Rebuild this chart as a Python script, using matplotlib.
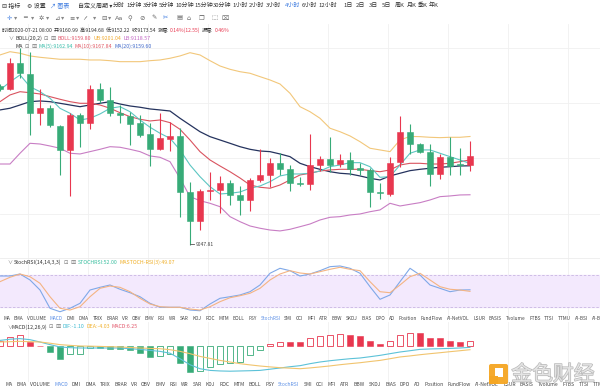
import matplotlib
matplotlib.use('Agg')
import matplotlib.pyplot as plt
import matplotlib.patheffects as pe
from matplotlib.patches import Rectangle, FancyBboxPatch
import numpy as np

plt.rcParams['font.family'] = ['Noto Sans CJK SC', 'DejaVu Sans']

# ---------------- data ----------------
opens = [9271.8, 9268.3, 9305.5, 9289.5, 9234.7, 9241.8, 9215.9, 9182.0, 9231.9, 9220.6,
         9268.3, 9252.7, 9234.7, 9230.1, 9219.7, 9204.2, 9182.9, 9197.9, 9201.8, 9122.9,
         9081.5, 9124.4, 9125.4, 9134.8, 9118.3, 9111.2, 9139.5, 9146.6, 9163.1, 9154.6,
         9135.7, 9133.4, 9160.7, 9168.8, 9161.7, 9167.8, 9156.1, 9153.7, 9122.9, 9119.7,
         9164.5, 9207.0, 9190.0, 9179.6, 9148.0, 9171.6, 9162.0, 9160.99]
highs = [9275.3, 9311.7, 9325.9, 9320.2, 9268.3, 9245.6, 9217.3, 9234.7, 9234.7, 9273.9,
         9276.3, 9271.5, 9245.6, 9236.1, 9231.5, 9219.7, 9234.7, 9222.0, 9212.7, 9137.1,
         9126.3, 9150.4, 9145.2, 9139.5, 9131.0, 9141.9, 9182.9, 9170.2, 9178.1, 9160.7,
         9143.3, 9204.6, 9173.5, 9199.9, 9176.3, 9179.6, 9163.1, 9156.1, 9135.7, 9171.6,
         9230.1, 9218.7, 9191.4, 9190.4, 9176.3, 9199.9, 9184.4, 9194.68]
lows = [9265.4, 9266.9, 9283.8, 9203.2, 9217.3, 9214.1, 9146.6, 9116.9, 9185.8, 9211.2,
        9248.0, 9230.1, 9219.7, 9189.0, 9200.3, 9159.3, 9182.0, 9180.5, 9087.6, 9047.81,
        9068.7, 9111.2, 9093.2, 9104.1, 9090.0, 9096.1, 9137.1, 9130.0, 9146.6, 9124.4,
        9131.0, 9125.4, 9152.7, 9151.2, 9158.3, 9146.6, 9146.6, 9100.9, 9112.2, 9117.3,
        9158.3, 9176.3, 9178.1, 9131.0, 9140.5, 9146.6, 9146.6, 9152.22]
closes = [9268.3, 9305.5, 9290.5, 9234.7, 9241.8, 9217.3, 9182.0, 9231.9, 9219.7, 9268.3,
          9252.7, 9234.7, 9231.0, 9218.7, 9203.2, 9182.9, 9198.5, 9201.8, 9122.9, 9081.5,
          9123.9, 9125.8, 9134.8, 9117.9, 9111.2, 9139.5, 9146.6, 9163.1, 9155.1, 9135.7,
          9133.4, 9160.7, 9168.8, 9160.7, 9167.8, 9154.6, 9153.7, 9122.9, 9120.7, 9164.0,
          9207.8, 9190.0, 9179.6, 9148.0, 9171.6, 9159.7, 9161.0, 9173.54]

boll_ub = [9316.4, 9321.0, 9318.8, 9315.0, 9313.1, 9311.7, 9310.3, 9310.3, 9310.3, 9309.3,
           9309.3, 9308.3, 9306.9, 9306.9, 9306.9, 9308.3, 9309.3, 9311.7, 9315.0, 9319.6,
           9316.4, 9308.3, 9300.8, 9296.1, 9292.7, 9290.5, 9285.7, 9281.0, 9275.3, 9262.2,
           9243.2, 9236.1, 9226.8, 9212.7, 9207.8, 9201.8, 9193.7, 9184.4, 9182.0, 9179.6,
           9196.1, 9201.1, 9200.8, 9199.9, 9199.4, 9199.9, 9199.9, 9201.04]
boll_lb = [9162.1, 9162.1, 9177.3, 9191.4, 9190.4, 9187.6, 9184.4, 9177.3, 9176.3, 9179.6,
           9182.9, 9186.6, 9185.8, 9182.9, 9179.6, 9173.5, 9171.6, 9165.4, 9141.9, 9115.9,
           9110.2, 9106.5, 9101.7, 9087.6, 9080.5, 9074.4, 9071.2, 9068.7, 9067.4, 9069.7,
           9073.4, 9077.2, 9082.9, 9086.7, 9087.6, 9090.0, 9091.4, 9094.6, 9097.1, 9106.5,
           9102.7, 9105.1, 9107.4, 9111.2, 9115.9, 9116.9, 9118.3, 9118.57]
ma20 = [9238.6, 9241.0, 9245.6, 9250.3, 9251.3, 9250.3, 9248.0, 9245.6, 9243.2, 9245.6,
        9248.0, 9250.3, 9247.0, 9244.2, 9242.4, 9240.0, 9238.6, 9237.1, 9226.8, 9217.3,
        9207.8, 9200.8, 9196.1, 9191.4, 9186.6, 9182.9, 9180.5, 9179.6, 9176.3, 9172.5,
        9163.1, 9158.3, 9154.6, 9151.2, 9149.0, 9148.0, 9145.2, 9141.9, 9139.5, 9145.2,
        9149.0, 9152.7, 9154.6, 9156.1, 9157.5, 9158.3, 9159.3, 9159.60]
ma10 = [9250.3, 9259.8, 9264.4, 9263.0, 9261.2, 9257.4, 9253.7, 9250.3, 9248.0, 9248.0,
        9245.6, 9241.0, 9234.7, 9229.1, 9225.4, 9223.0, 9224.4, 9220.6, 9211.2, 9196.1,
        9179.6, 9167.8, 9159.3, 9151.2, 9142.3, 9132.4, 9129.2, 9127.8, 9132.4, 9139.5,
        9146.6, 9149.0, 9152.2, 9153.7, 9154.6, 9154.6, 9154.6, 9152.7, 9151.2, 9153.7,
        9160.7, 9163.1, 9163.1, 9162.1, 9162.1, 9163.1, 9165.4, 9167.84]
ma5 = [9266.9, 9278.2, 9288.1, 9271.5, 9264.4, 9255.1, 9240.9, 9233.9, 9224.4, 9226.8,
       9232.9, 9240.9, 9243.2, 9236.1, 9224.4, 9214.1, 9205.6, 9198.5, 9182.0, 9160.7,
       9144.2, 9130.0, 9119.7, 9120.7, 9122.5, 9127.8, 9131.0, 9137.1, 9145.2, 9148.0,
       9148.0, 9149.0, 9152.2, 9158.3, 9160.7, 9164.0, 9164.0, 9158.3, 9143.3, 9144.2,
       9160.7, 9177.3, 9182.0, 9182.0, 9177.3, 9172.5, 9167.8, 9162.94]

stoch_rsi = [78.1, 78.1, 81.9, 70.6, 51.6, 17.0, 10.5, 17.0, 26.4, 51.6,
             56.7, 61.1, 53.0, 46.5, 38.9, 26.4, 18.9, 18.9, 18.9, 13.7,
             12.4, 25.1, 35.9, 38.9, 42.2, 48.4, 61.1, 83.3, 92.7, 88.2,
             78.1, 81.9, 88.2, 95.8, 97.1, 92.7, 83.3, 57.9, 34.0, 42.2,
             67.4, 92.7, 80.0, 61.1, 54.8, 48.4, 51.6, 52.00]
ma_stoch_rsi = [67.4, 75.7, 81.9, 76.8, 64.3, 38.9, 17.0, 13.7, 20.0, 38.9,
                54.8, 59.2, 56.7, 48.4, 35.9, 25.1, 20.0, 18.9, 18.9, 15.6,
                13.7, 20.0, 29.5, 37.0, 40.8, 45.4, 54.8, 70.6, 81.9, 88.2,
                83.8, 81.9, 86.3, 90.8, 94.6, 90.8, 88.2, 67.4, 48.4, 46.5,
                61.1, 76.8, 83.3, 70.6, 57.9, 53.0, 51.6, 49.07]

dif = [7.6, 9.1, 9.8, 8.5, 5.6, 2.3, -0.6, -1.5, -1.9, -1.9,
       -1.9, -1.9, -1.9, -2.8, -3.6, -4.9, -6.1, -8.4, -15.3, -22.8,
       -27.8, -29.9, -30.6, -30.9, -30.6, -30.3, -29.9, -28.4, -26.9, -25.3,
       -24.0, -21.5, -19.4, -17.8, -16.5, -15.3, -14.4, -12.8, -11.1, -9.0,
       -6.9, -5.3, -3.6, -3.1, -2.8, -2.4, -1.9, -1.10]
dea = [5.6, 6.0, 6.4, 6.0, 5.6, 4.1, 2.3, 1.4, 0.6, 0.4,
       0.1, -0.3, -0.6, -1.3, -1.9, -2.4, -2.8, -4.0, -6.1, -9.0,
       -12.4, -14.9, -17.4, -19.4, -21.5, -23.0, -24.4, -25.5, -26.5, -27.1,
       -27.8, -26.8, -25.6, -24.3, -22.8, -21.5, -20.3, -18.8, -17.4, -15.3,
       -13.1, -11.8, -10.3, -9.0, -7.8, -6.5, -5.3, -4.03]
macd_hist = [7.3, 12.3, 14.4, 5.2, 1.0, -6.5, -16.0, -9.8, -9.4, -2.0,
             -2.3, -2.7, -3.5, -4.4, -7.7, -12.7, -11.5, -9.8, -21.0, -31.5,
             -30.6, -25.2, -21.9, -20.2, -19.0, -10.6, -4.4, 3.1, 6.0, 5.2,
             5.0, 10.2, 13.1, 14.4, 15.6, 14.4, 13.1, 7.3, 3.1, 7.3,
             14.4, 17.3, 16.5, 10.2, 10.0, 7.3, 6.0, 6.25]

low_label = "9047.81"

# ---------------- styling ----------------
UP = '#e8374f'
DOWN = '#37ab78'
GRID = '#f0f0f0'
W, H = 600, 391

fig = plt.figure(figsize=(W / 100, H / 100), dpi=100)
fig.patch.set_facecolor('white')


def ax_px(x0, y0, x1, y1):
    a = fig.add_axes([x0 / W, 1 - y1 / H, (x1 - x0) / W, (y1 - y0) / H])
    a.set_xlim(0, 60)
    for s in a.spines.values():
        s.set_visible(False)
    a.set_xticks([])
    a.set_yticks([])
    a.patch.set_alpha(0)
    return a


def vgrid(a):
    for k in range(10):
        a.axvline(2.8 + 6 * k, color=GRID, lw=0.6, zorder=0)


idx = np.arange(len(opens))

# ---------------- main chart ----------------
ax = ax_px(0, 24, 600, 258)
ax.set_ylim(9029.1, 9360.2)
vgrid(ax)
for yy in [9326, 9248, 9170, 9092]:
    ax.axhline(yy, color=GRID, lw=0.6, zorder=0)

ax.plot(idx, boll_ub, color='#f2c77a', lw=0.8, zorder=2)
ax.plot(idx, boll_lb, color='#c87dc4', lw=0.8, zorder=2)
ax.plot(idx, ma20, color='#25335e', lw=0.9, zorder=2)
ax.plot(idx, ma10, color='#d9535f', lw=0.8, zorder=2)
ax.plot(idx, ma5, color='#5cc6c2', lw=0.8, zorder=2)

for i in idx:
    o, h, l, c = opens[i], highs[i], lows[i], closes[i]
    col = UP if c >= o else DOWN
    ax.vlines(i, l, h, color=col, lw=0.8, zorder=3)
    bot = min(o, c)
    hgt = max(abs(c - o), 1.6)
    ax.add_patch(Rectangle((i - 0.33, bot), 0.66, hgt, facecolor=col,
                           edgecolor=col, lw=0.4, zorder=4))

imin = int(np.argmin(lows))
ax.plot([imin, imin + 0.35], [lows[imin] + 1, lows[imin] + 1], color='#555555', lw=0.6, zorder=5)
ax.text(imin + 0.55, lows[imin] + 1, low_label, fontsize=3.6, color='#444444',
        va='center', ha='left', zorder=5)

# ---------------- StochRSI ----------------
ax2 = ax_px(0, 258, 600, 316)
ax2.set_ylim(2.4, 112.2)
vgrid(ax2)
ax2.axhspan(20, 80, color='#f3e9fd', zorder=0)
ax2.axhline(80, color='#c9b6e2', lw=0.6, ls=(0, (3, 2)), zorder=1)
ax2.axhline(20, color='#c9b6e2', lw=0.6, ls=(0, (3, 2)), zorder=1)
ax2.plot(idx, stoch_rsi, color='#7fa8e8', lw=0.8, zorder=2)
ax2.plot(idx, ma_stoch_rsi, color='#f4b483', lw=0.8, zorder=2)

# ---------------- MACD ----------------
ax3 = ax_px(0, 322, 600, 382)
ax3.set_ylim(-44.4, 30.6)
vgrid(ax3)
for i in idx:
    v = macd_hist[i]
    col = UP if v >= 0 else DOWN
    hollow = (i == 0) or (v > macd_hist[i - 1])
    hh = v if abs(v) > 0.6 else (0.6 if v >= 0 else -0.6)
    if hollow:
        ax3.add_patch(Rectangle((i - 0.33, 0), 0.66, hh, facecolor='white',
                                edgecolor=col, lw=0.6, zorder=3))
    else:
        ax3.add_patch(Rectangle((i - 0.33, 0), 0.66, hh, facecolor=col,
                                edgecolor=col, lw=0.4, zorder=3))
ax3.plot(idx, dif, color='#5cc2d8', lw=0.8, zorder=4)
ax3.plot(idx, dea, color='#f1c46e', lw=0.8, zorder=4)

# ---------------- overlay text ----------------
ov = fig.add_axes([0, 0, 1, 1])
ov.set_xlim(0, W)
ov.set_ylim(H, 0)
ov.axis('off')
ov.patch.set_alpha(0)

ov.axhline(258, color='#ececec', lw=0.6)

FS = 4.3
LFS = 3.8
BLUE = '#3d7be0'
TXT = '#333333'

toolbar = [("⊟ 指标", 2, TXT), ("⚙ 设置", 27, TXT), ("↗ 图表", 50, BLUE),
           ("自定义周期 ▾", 78, TXT), ("分时", 113, TXT), ("1分钟", 126, TXT),
           ("3分钟", 143, TXT), ("5分钟", 159, TXT), ("10分钟", 175, TXT),
           ("15分钟", 194, TXT), ("30分钟", 213, TXT), ("1小时", 232, TXT),
           ("2小时", 249, TXT), ("3小时", 266, TXT), ("4小时", 285, BLUE),
           ("6小时", 302, TXT), ("12小时", 318, TXT), ("1日", 343, TXT),
           ("2日", 356, TXT), ("3日", 369, TXT), ("5日", 382, TXT),
           ("周K", 395, TXT), ("月K", 407, TXT), ("季K", 418, TXT), ("年K", 429, TXT)]
for s, x, c in toolbar:
    ov.text(x, 5.5, s, fontsize=FS, color=c, va='center', ha='left')

icons = [("✛", 7, BLUE), ("▾", 14, '#888'), ("═", 23, '#666'), ("▾", 31, '#888'),
         ("✲", 39, '#666'), ("▾", 46, '#888'), ("⊿", 54, '#666'), ("▾", 61, '#888'),
         ("≡", 69, '#666'), ("▾", 76, '#888'), ("⁄⁄", 84, '#666'), ("▾", 93, '#888'),
         ("⊟", 101, '#666'), ("▾", 108, '#888'), ("Aa", 115, '#666'), ("⚲", 127, '#666'),
         ("⊘", 139, '#666'), ("✎", 151, '#666'), ("✂", 163, BLUE), ("▤", 176, '#666'),
         ("⌂", 187, '#666'), ("❐", 199, '#666'), ("⬚", 211, '#666'), ("⌧", 222, '#666')]
for s, x, c in icons:
    ov.text(x, 18, s, fontsize=4.6, color=c, va='center', ha='left', family='DejaVu Sans')


def chain(x, y, parts, fs=LFS, gap=1.5):
    t = None
    for s, c in parts:
        if t is None:
            t = ov.text(x, y, s, fontsize=fs, color=c, va='center', ha='left')
        else:
            t = ov.annotate(s, xy=(1, 0.5), xycoords=t, xytext=(gap, 0),
                            textcoords='offset points', fontsize=fs, color=c,
                            va='center', ha='left')
    return t


chain(2, 30, [("时间2020-07-21 08:00", TXT), ("开:9160.99", TXT), ("高:9194.68", TXT),
              ("低:9152.22", TXT), ("收:9173.54", TXT), ("涨幅:", TXT),
              ("0.14%(12.55)", UP), ("振幅:", TXT), ("0.46%", UP)], fs=3.65, gap=1.0)

ov.text(8, 38, "∨", fontsize=3.6, color='#777', va='center', ha='left')
chain(15, 38, [("BOLL(20,2)", TXT), ("⊡", '#777'), ("⊠", '#777'),
               ("BOLL:9159.80", '#e2566a'), ("UB:9201.04", '#f0a92e'),
               ("LB:9118.57", '#c062c2')], gap=1.5)
chain(15, 46.5, [("MA", TXT), ("⊡", '#777'), ("⊠", '#777'),
                 ("MA(5):9162.94", '#36bba8'), ("MA(10):9167.84", '#e05561'),
                 ("MA(20):9159.60", '#3f68c9')], gap=1.5)

ov.text(7, 262, "∨", fontsize=3.6, color='#777', va='center', ha='left')
chain(14, 262, [("StochRSI(14,14,3,3)", TXT), ("⊡", '#777'), ("⊠", '#777'),
                ("STOCHRSI:52.00", '#39bf9f'), ("MASTOCH-RSI(3):49.07", '#f0b02a')], gap=1.5)

ov.text(7, 327, "∨", fontsize=3.6, color='#777', va='center', ha='left')
chain(11, 327, [("MACD(12,26,9)", TXT), ("⊡", '#777'), ("⊠", '#777'),
                ("DIF:-1.10", '#3ab9d0'), ("DEA:-4.03", '#f0b02a'),
                ("MACD:6.25", '#e2566a')], gap=1.5)

tabs = ["MA", "EMA", "VOLUME", "MACD", "DMI", "DMA", "TRIX", "BRAR", "VR", "OBV", "EMV",
        "RSI", "WR", "SAR", "KDJ", "ROC", "MTM", "BOLL", "PSY", "StochRSI", "SMI", "CCI",
        "MFI", "ATR", "BBW", "SKDJ", "BIAS", "DPO", "AD", "Position", "FundFlow",
        "AI-NetVOL", "LSUR", "BASIS", "Tvolume", "FTBS", "TTSI", "TTMU", "AI-BSI", "AI-BSV"]
hl = {"MACD": '#5b8fe6', "StochRSI": '#5b8fe6'}
chain(3, 319, [(t, hl.get(t, '#444444')) for t in tabs], fs=3.45, gap=2.7)
chain(5, 385, [(t, hl.get(t, '#444444')) for t in tabs], fs=3.62, gap=2.9)

# ---------------- watermark ----------------
ov.add_patch(FancyBboxPatch((489, 364), 19, 20, boxstyle="round,pad=0,rounding_size=2",
                            facecolor='#f5a623', edgecolor='none', alpha=0.95, zorder=10))
ov.add_patch(Rectangle((495, 368), 8, 9, facecolor='white', edgecolor='none', zorder=11))
ov.add_patch(Rectangle((489, 376), 9, 8, facecolor='#f5a623', edgecolor='none', zorder=12))
ov.text(553, 374.5, "金色财经", fontsize=15, color='#e4e4e4', va='center', ha='center',
        zorder=12, path_effects=[pe.withStroke(linewidth=1.0, foreground='#b8b8b8')])

fig.savefig('out.png', dpi=100, facecolor='white')
